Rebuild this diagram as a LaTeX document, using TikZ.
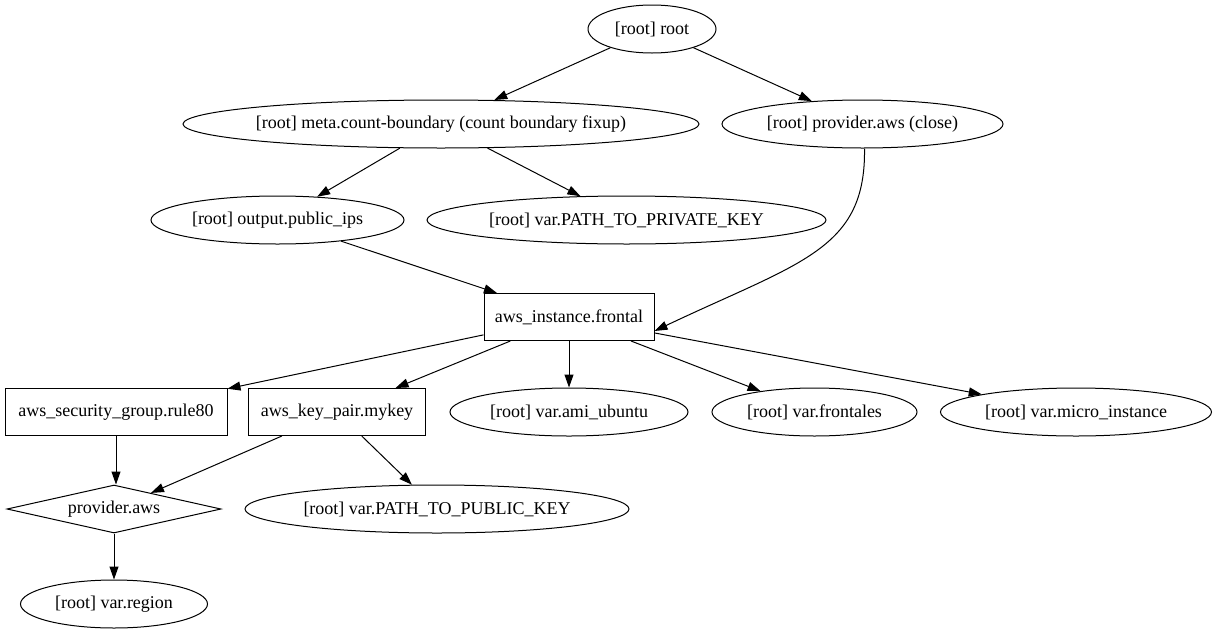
\documentclass[tikz,border=0pt]{standalone}
\usepackage{fontspec}
\setmainfont{Liberation Serif}
\usetikzlibrary{shapes.geometric,arrows.meta}
\begin{document}
\begin{tikzpicture}[x=1pt,y=-1pt,
  every node/.style={font=\fontsize{18}{22}\selectfont, inner sep=0pt, line width=1pt},
  ell/.style={draw, ellipse, minimum height=48pt, inner xsep=-30pt},
  box/.style={draw, rectangle, minimum height=47pt},
  dia/.style={draw, diamond, minimum height=48pt, aspect=4.5},
  arr/.style={draw, line width=1pt, -{Triangle[length=13pt,width=9pt]}}]
\useasboundingbox (0,0) rectangle (1216,635);
\node[ell, minimum width=128pt] (root) at (652,29) {[root] root};
\node[ell, minimum width=516pt] (meta) at (441,124) {[root] meta.count-boundary (count boundary fixup)};
\node[ell, minimum width=281pt] (provclose) at (862.5,124) {[root] provider.aws (close)};
\node[ell, minimum width=253pt] (output) at (277.5,220) {[root] output.public\_ips};
\node[ell, minimum width=399pt] (privkey) at (626.5,220) {[root] var.PATH\_TO\_PRIVATE\_KEY};
\node[box, minimum width=170pt] (frontal) at (569,317) {aws\_instance.frontal};
\node[box, minimum width=222pt] (sg) at (116,412) {aws\_security\_group.rule80};
\node[box, minimum width=177pt] (mykey) at (337,412) {aws\_key\_pair.mykey};
\node[ell, minimum width=238pt] (ami) at (569,412) {[root] var.ami\_ubuntu};
\node[ell, minimum width=205pt] (frontales) at (814.5,412) {[root] var.frontales};
\node[ell, minimum width=271pt] (micro) at (1076,412) {[root] var.micro\_instance};
\node[dia, minimum width=214pt] (prov) at (114,509) {provider.aws};
\node[ell, minimum width=384pt] (pubkey) at (437,509) {[root] var.PATH\_TO\_PUBLIC\_KEY};
\node[ell, minimum width=187pt] (region) at (114,604) {[root] var.region};
\draw[arr] (root) -- (meta);
\draw[arr] (root) -- (provclose);
\draw[arr] (meta) -- (output);
\draw[arr] (meta) -- (privkey);
\draw[arr] ([xshift=2pt]provclose.south) .. controls (866,250) and (800,262) .. ([yshift=-14pt]frontal.east);
\draw[arr] (output) -- (frontal);
\draw[arr] (frontal) -- (sg);
\draw[arr] (frontal) -- (mykey);
\draw[arr] (frontal) -- (ami);
\draw[arr] (frontal) -- (frontales);
\draw[arr] (frontal) -- (micro);
\draw[arr] (sg) -- (sg |- prov.north);
\draw[arr] (mykey) -- (prov);
\draw[arr] (mykey) -- (pubkey);
\draw[arr] (prov) -- (region);
\end{tikzpicture}
\end{document}
